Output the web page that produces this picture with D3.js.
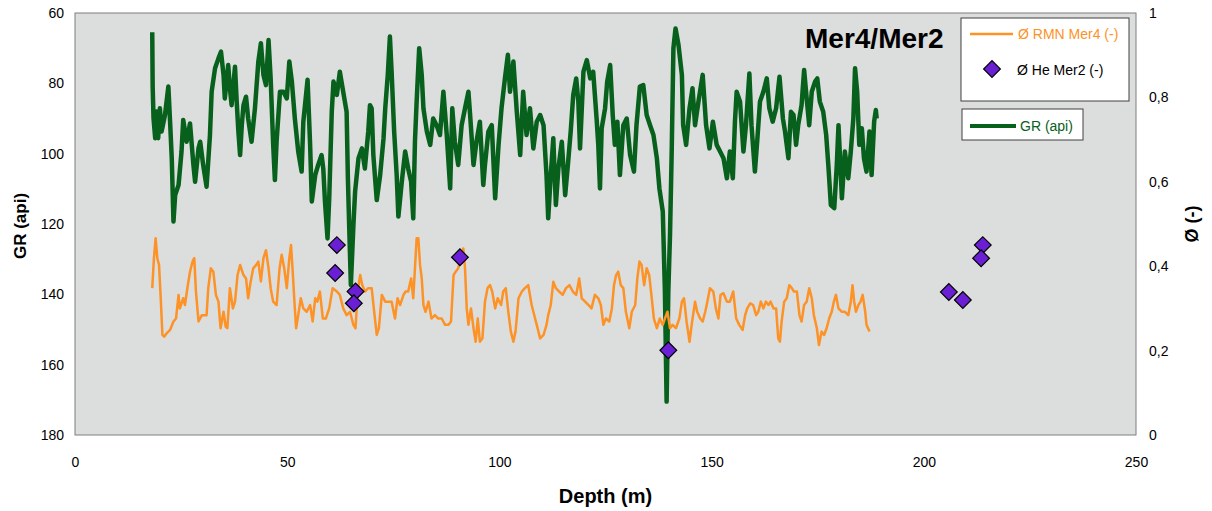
<!DOCTYPE html>
<html>
<head>
<meta charset="utf-8">
<script src="https://cdn.jsdelivr.net/npm/d3@7"></script>
<style>
    body { margin: 0; background: #fff; }
    svg text { font-family: Arial, "Liberation Sans", sans-serif; }
</style>
</head>
<body>
<div id="chart"></div>
<script>
// Axis ticks
const depthTicks = [0, 50, 100, 150, 200, 250];
const grTicks = [60, 80, 100, 120, 140, 160, 180];
const phiTicks = [0, 0.2, 0.4, 0.6, 0.8, 1];

// Gamma ray log, Mer4: [depth (m), GR (api)]
const grProfile = [
    [18.2,65.5],[18.3,80.9],[18.5,89.9],[18.9,95.6],[19.2,88.0],[19.6,95.6],[20.0,87.1],[20.4,93.7],[21.2,89.0],[22.0,80.9],
    [22.4,90.9],[22.8,101.3],[23.2,119.3],[23.6,111.8],[24.4,108.9],[25.1,99.4],[25.5,90.4],[26.3,96.6],[27.1,91.4],[27.9,103.2],
    [28.3,108.0],[29.1,98.5],[29.5,96.6],[30.2,103.2],[31.0,109.4],[31.8,94.7],[32.2,82.4],[33.0,75.7],[33.8,72.9],[34.4,71.0],
    [35.0,77.6],[35.3,84.3],[36.1,74.8],[36.5,81.4],[36.9,86.2],[37.7,75.3],[38.1,85.2],[38.5,93.7],[38.9,100.4],[39.3,91.9],
    [39.7,86.2],[40.3,83.8],[40.8,90.0],[41.6,96.6],[42.4,87.1],[43.2,73.8],[43.8,68.6],[44.4,77.6],[45.0,80.5],[45.6,67.7],
    [46.1,78.6],[46.7,97.5],[47.1,107.5],[47.5,96.6],[48.3,82.4],[49.1,82.4],[49.9,84.3],[50.5,73.8],[51.1,79.5],[51.8,90.0],
    [52.6,99.4],[53.4,105.1],[53.8,90.9],[54.8,79.0],[55.4,97.5],[55.8,113.6],[56.6,106.1],[57.3,103.2],[58.1,100.4],[58.5,104.2],
    [58.9,113.6],[59.5,124.1],[59.9,112.7],[60.5,88.1],[60.9,79.5],[61.7,83.3],[62.4,76.7],[63.2,82.4],[64.0,88.1],[64.3,107.0],
    [64.6,120.3],[65.0,137.3],[65.6,120.3],[66.0,110.8],[66.8,101.3],[67.6,98.5],[68.3,104.2],[69.1,93.7],[69.5,86.2],[69.9,87.1],
    [70.3,100.4],[71.1,113.2],[71.9,106.1],[72.7,95.6],[73.1,87.1],[73.7,77.6],[74.2,66.7],[74.6,76.7],[75.2,93.7],[75.8,106.1],
    [76.2,117.9],[77.0,108.0],[77.8,99.4],[78.5,104.2],[79.2,108.0],[79.7,118.4],[80.1,96.6],[80.5,85.2],[81.1,70.0],[81.7,77.6],
    [82.1,87.1],[82.9,93.7],[83.7,97.5],[84.4,90.0],[85.2,91.9],[86.0,94.7],[86.8,82.4],[87.6,94.7],[88.4,109.9],[88.9,87.1],
    [89.5,96.6],[90.3,103.2],[91.1,91.9],[91.9,87.1],[92.7,82.4],[93.1,89.0],[93.9,103.2],[94.6,96.6],[95.4,90.9],[96.2,108.9],
    [96.6,103.2],[97.4,93.7],[98.2,91.9],[99.0,112.7],[99.8,97.5],[100.5,87.1],[101.3,78.6],[102.0,71.9],[102.5,82.4],[103.3,73.8],
    [104.1,88.1],[104.9,100.4],[105.6,82.4],[106.4,94.7],[107.2,87.1],[108.0,98.5],[108.8,90.9],[109.6,89.0],[110.4,91.9],[111.1,106.1],
    [111.5,118.4],[112.1,106.1],[112.7,95.6],[113.3,114.6],[113.9,104.2],[114.7,96.6],[115.5,111.8],[116.2,102.3],[116.8,93.7],[117.4,83.3],
    [118.1,78.6],[118.6,85.2],[119.0,98.5],[119.8,76.7],[120.6,73.4],[121.4,78.6],[122.1,76.7],[122.9,90.0],[123.3,97.5],[123.7,109.9],
    [124.1,92.8],[124.9,87.1],[125.4,79.5],[126.1,74.8],[126.7,89.0],[127.2,97.5],[127.8,90.9],[128.4,106.1],[129.2,91.9],[130.0,90.0],
    [130.8,100.4],[131.7,105.1],[132.3,91.9],[133.1,80.9],[133.9,80.5],[134.7,89.0],[135.5,91.9],[136.3,94.7],[137.1,101.3],[137.7,109.9],
    [138.5,116.5],[139.0,139.2],[139.4,170.5],[139.8,139.2],[140.2,123.1],[140.6,99.4],[141.0,70.0],[141.5,64.4],[142.2,69.1],[143.0,77.6],
    [143.3,91.9],[144.0,97.5],[144.8,87.1],[145.5,81.4],[146.1,91.9],[146.9,85.2],[147.9,77.6],[148.7,91.9],[149.5,98.5],[150.3,90.9],
    [151.2,97.5],[152.0,99.4],[152.8,101.3],[153.6,107.0],[154.3,99.4],[155.0,107.0],[155.5,90.9],[155.9,82.4],[156.7,85.2],[157.5,99.4],
    [158.1,91.9],[158.9,77.2],[159.4,91.9],[160.2,105.1],[160.8,95.6],[161.4,85.2],[162.2,82.4],[163.0,78.6],[163.6,87.1],[164.4,90.9],
    [165.2,87.1],[166.0,78.1],[166.8,90.0],[167.3,93.7],[168.1,101.3],[168.7,88.1],[169.3,89.0],[169.9,97.5],[170.4,91.9],[171.2,86.2],
    [171.8,76.2],[172.4,84.3],[173.0,91.9],[173.6,82.4],[174.4,79.5],[174.9,78.6],[175.5,85.2],[176.3,88.1],[177.0,94.7],[177.5,103.2],
    [178.1,114.6],[178.9,115.5],[179.5,103.2],[179.9,91.9],[180.7,112.7],[181.4,99.4],[182.2,107.0],[182.8,99.4],[183.4,90.0],[183.8,75.7],
    [184.3,82.4],[184.8,97.5],[185.4,92.8],[185.9,101.3],[186.5,105.1],[187.2,93.7],[187.7,106.1],[188.3,90.9],[188.7,87.6],[188.9,90.0]
];

// NMR porosity, Mer4: [depth (m), porosity (-)]
const phiProfile = [
    [18.2,0.348],[18.6,0.419],[19.0,0.466],[19.4,0.419],[19.8,0.403],[20.2,0.324],[20.6,0.237],[21.0,0.233],[21.6,0.241],[22.4,0.249],
    [23.2,0.269],[23.8,0.276],[24.4,0.332],[24.7,0.300],[25.5,0.324],[25.9,0.308],[26.6,0.356],[27.1,0.387],[27.7,0.411],[28.1,0.419],
    [28.5,0.340],[29.1,0.269],[29.9,0.284],[31.0,0.284],[31.4,0.348],[32.0,0.395],[32.6,0.387],[33.2,0.332],[33.8,0.316],[34.3,0.253],
    [35.0,0.292],[35.5,0.257],[35.9,0.253],[36.5,0.348],[37.2,0.300],[37.7,0.316],[38.3,0.379],[38.9,0.403],[39.7,0.379],[40.3,0.371],
    [40.8,0.324],[41.4,0.364],[42.0,0.395],[42.7,0.403],[43.2,0.411],[43.8,0.364],[44.4,0.419],[45.0,0.438],[45.6,0.395],[46.1,0.348],
    [46.7,0.316],[47.5,0.308],[48.2,0.395],[48.7,0.427],[49.3,0.395],[49.9,0.348],[50.5,0.419],[50.9,0.450],[51.3,0.387],[51.7,0.316],
    [52.1,0.253],[52.6,0.284],[53.2,0.324],[53.8,0.300],[54.6,0.292],[55.4,0.308],[56.0,0.269],[56.6,0.324],[57.1,0.316],[57.7,0.340],
    [58.4,0.276],[59.1,0.276],[59.9,0.300],[60.7,0.348],[61.7,0.340],[62.4,0.332],[63.2,0.300],[64.0,0.284],[64.8,0.292],[65.6,0.261],
    [66.1,0.253],[66.6,0.340],[67.2,0.379],[67.7,0.355],[68.3,0.340],[69.1,0.348],[69.9,0.348],[70.5,0.292],[71.1,0.237],[71.6,0.253],
    [72.3,0.332],[73.1,0.316],[73.8,0.316],[74.6,0.316],[75.4,0.276],[76.0,0.324],[76.6,0.308],[77.4,0.332],[77.9,0.340],[78.5,0.340],
    [79.2,0.371],[79.7,0.324],[80.1,0.395],[80.5,0.466],[80.9,0.466],[81.3,0.403],[81.7,0.371],[82.1,0.308],[82.6,0.292],[83.3,0.316],
    [84.0,0.276],[84.8,0.284],[85.6,0.276],[86.4,0.276],[87.2,0.261],[88.0,0.261],[88.6,0.269],[89.2,0.379],[89.7,0.387],[90.3,0.395],
    [91.0,0.427],[91.5,0.442],[91.9,0.395],[92.3,0.300],[92.7,0.261],[93.3,0.300],[93.9,0.253],[94.4,0.221],[94.9,0.276],[95.4,0.221],
    [96.0,0.229],[96.6,0.316],[97.2,0.348],[97.8,0.355],[98.3,0.340],[99.0,0.300],[99.6,0.324],[100.4,0.308],[100.9,0.340],[101.5,0.348],
    [102.1,0.292],[102.7,0.245],[103.3,0.221],[103.8,0.245],[104.5,0.324],[105.3,0.340],[106.0,0.348],[106.8,0.355],[107.6,0.308],[108.0,0.292],
    [108.8,0.261],[109.6,0.229],[110.4,0.237],[111.1,0.261],[111.5,0.284],[112.1,0.308],[112.7,0.363],[113.3,0.348],[114.1,0.340],[114.9,0.332],
    [115.7,0.348],[116.5,0.355],[117.3,0.340],[118.1,0.332],[118.8,0.371],[119.4,0.324],[120.2,0.316],[121.0,0.308],[121.7,0.300],[122.5,0.332],
    [123.3,0.324],[123.9,0.308],[124.5,0.261],[125.1,0.276],[125.9,0.269],[126.5,0.300],[127.0,0.355],[127.5,0.379],[128.0,0.387],[128.6,0.355],
    [129.2,0.348],[129.8,0.292],[130.6,0.253],[131.2,0.292],[132.0,0.308],[132.5,0.371],[133.0,0.411],[133.5,0.403],[134.1,0.355],[134.7,0.395],
    [135.3,0.379],[135.9,0.324],[136.4,0.276],[137.1,0.253],[137.8,0.276],[138.5,0.261],[139.0,0.276],[139.6,0.292],[140.2,0.253],[140.8,0.261],
    [141.6,0.253],[142.4,0.276],[143.0,0.316],[143.5,0.324],[144.1,0.269],[144.8,0.221],[145.3,0.261],[146.1,0.316],[146.6,0.292],[147.3,0.276],
    [147.9,0.269],[148.5,0.292],[149.0,0.316],[149.6,0.348],[150.4,0.340],[151.0,0.300],[151.6,0.276],[152.1,0.332],[152.8,0.336],[153.6,0.316],
    [154.3,0.316],[155.1,0.340],[155.8,0.276],[156.5,0.261],[157.3,0.249],[157.9,0.284],[158.4,0.300],[159.1,0.312],[159.8,0.308],[160.5,0.284],
    [161.0,0.292],[161.6,0.316],[162.2,0.300],[162.8,0.316],[163.4,0.308],[163.9,0.316],[164.6,0.300],[165.2,0.300],[165.7,0.229],[166.1,0.221],
    [166.5,0.269],[167.1,0.316],[167.7,0.324],[168.3,0.355],[168.9,0.348],[169.4,0.340],[170.1,0.340],[170.7,0.284],[171.2,0.269],[171.8,0.308],
    [172.4,0.316],[173.0,0.348],[173.6,0.324],[174.1,0.284],[174.8,0.253],[175.3,0.213],[175.9,0.245],[176.5,0.237],[177.1,0.253],[177.7,0.276],
    [178.3,0.292],[178.8,0.316],[179.3,0.332],[179.9,0.300],[180.7,0.292],[181.4,0.292],[182.2,0.284],[182.8,0.316],[183.2,0.355],[183.6,0.316],
    [184.0,0.292],[184.6,0.308],[185.1,0.316],[185.6,0.332],[186.2,0.292],[186.5,0.261],[187.2,0.245]
];

// Helium porosity samples, Mer2
const heDepth = [61.7, 61.3, 66.1, 65.7, 90.7, 139.8, 213.9, 213.5, 205.9, 209.2];
const hePhi = [0.450, 0.384, 0.340, 0.312, 0.421, 0.201, 0.450, 0.419, 0.339, 0.320];

const colors = {
    gr: '#07601c',
    nmr: '#fd9226',
    he: '#6a1fd4',
    plotBg: '#dcdddd'
};

const width = 1212, height = 511;
const margin = { top: 13, right: 76, bottom: 76, left: 75 };
const innerW = width - margin.left - margin.right;
const innerH = height - margin.top - margin.bottom;

const svg = d3.select('#chart')
    .append('svg')
    .attr('width', width)
    .attr('height', height);

const g = svg.append('g')
    .attr('transform', `translate(${margin.left}, ${margin.top})`);

// Scales
const x = d3.scaleLinear().domain([0, 250]).range([0, innerW]);
const yGR = d3.scaleLinear().domain([60, 180]).range([0, innerH]);
const yPhi = d3.scaleLinear().domain([0, 1]).range([innerH, 0]);

// Plot area
g.append('rect')
    .attr('width', innerW)
    .attr('height', innerH)
    .attr('fill', colors.plotBg)
    .attr('stroke', '#7f7f7f')
    .attr('stroke-width', 1);

// Axes (labels only, no ticks)
function styleAxis(sel) {
    sel.select('.domain').remove();
    sel.attr('font-size', 14)
        .attr('font-family', 'Arial, "Liberation Sans", sans-serif');
    sel.selectAll('text').attr('fill', '#000');
}

g.append('g')
    .attr('transform', `translate(0, ${innerH})`)
    .call(d3.axisBottom(x).tickValues(depthTicks).tickSize(0).tickPadding(22))
    .call(styleAxis);

g.append('g')
    .call(d3.axisLeft(yGR).tickValues(grTicks).tickSize(0).tickPadding(11))
    .call(styleAxis);

g.append('g')
    .attr('transform', `translate(${innerW}, 0)`)
    .call(d3.axisRight(yPhi).tickValues(phiTicks).tickSize(0).tickPadding(13)
        .tickFormat(d => (d === 0 || d === 1) ? String(d) : d.toFixed(1).replace('.', ',')))
    .call(styleAxis);

// GR line
g.append('path')
    .datum(grProfile)
    .attr('fill', 'none')
    .attr('stroke', colors.gr)
    .attr('stroke-width', 4.5)
    .attr('stroke-linejoin', 'round')
    .attr('d', d3.line().x(d => x(d[0])).y(d => yGR(d[1])));

// NMR porosity line
g.append('path')
    .datum(phiProfile)
    .attr('fill', 'none')
    .attr('stroke', colors.nmr)
    .attr('stroke-width', 2.5)
    .attr('stroke-linejoin', 'round')
    .attr('d', d3.line().x(d => x(d[0])).y(d => yPhi(d[1])));

// He porosity diamonds
const diamond = d3.symbol().type(d3.symbolSquare).size(140);
g.selectAll('.he')
    .data(heDepth.map((dep, i) => ({ depth: dep, phi: hePhi[i] })))
    .enter()
    .append('path')
    .attr('class', 'he')
    .attr('d', diamond)
    .attr('transform', d => `translate(${x(d.depth)}, ${yPhi(d.phi)}) rotate(45)`)
    .attr('fill', colors.he)
    .attr('stroke', '#000')
    .attr('stroke-width', 1.2);

// Titles
svg.append('text')
    .attr('x', 805)
    .attr('y', 48)
    .attr('font-size', 28)
    .attr('font-weight', 'bold')
    .text('Mer4/Mer2');

svg.append('text')
    .attr('text-anchor', 'middle')
    .attr('x', margin.left + innerW / 2)
    .attr('y', 503)
    .attr('font-size', 20)
    .attr('font-weight', 'bold')
    .text('Depth (m)');

svg.append('text')
    .attr('text-anchor', 'middle')
    .attr('transform', 'translate(26, 226) rotate(-90)')
    .attr('font-size', 17)
    .attr('font-weight', 'bold')
    .text('GR (api)');

svg.append('text')
    .attr('text-anchor', 'middle')
    .attr('transform', 'translate(1198, 224) rotate(-90)')
    .attr('font-size', 18)
    .attr('font-weight', 'bold')
    .text('Ø (-)');

// Legend for the porosity series
const leg1 = svg.append('g');
leg1.append('rect')
    .attr('x', 961).attr('y', 18)
    .attr('width', 168).attr('height', 83)
    .attr('fill', '#fff')
    .attr('stroke', '#404040');
leg1.append('line')
    .attr('x1', 970).attr('x2', 1013)
    .attr('y1', 34).attr('y2', 34)
    .attr('stroke', colors.nmr)
    .attr('stroke-width', 2.5);
leg1.append('text')
    .attr('x', 1018).attr('y', 34).attr('dy', '0.35em')
    .attr('font-size', 14)
    .attr('fill', colors.nmr)
    .text('Ø RMN Mer4 (-)');
leg1.append('path')
    .attr('d', diamond)
    .attr('transform', 'translate(992, 69) rotate(45)')
    .attr('fill', colors.he)
    .attr('stroke', '#000')
    .attr('stroke-width', 1.2);
leg1.append('text')
    .attr('x', 1017).attr('y', 70).attr('dy', '0.35em')
    .attr('font-size', 14)
    .attr('fill', '#000')
    .text('Ø He Mer2 (-)');

// Legend for GR
const leg2 = svg.append('g');
leg2.append('rect')
    .attr('x', 962).attr('y', 109)
    .attr('width', 121).attr('height', 31)
    .attr('fill', '#fff')
    .attr('stroke', '#404040');
leg2.append('line')
    .attr('x1', 970).attr('x2', 1016)
    .attr('y1', 126).attr('y2', 126)
    .attr('stroke', colors.gr)
    .attr('stroke-width', 4);
leg2.append('text')
    .attr('x', 1020).attr('y', 126).attr('dy', '0.35em')
    .attr('font-size', 14)
    .attr('fill', colors.gr)
    .text('GR (api)');
</script>
</body>
</html>
